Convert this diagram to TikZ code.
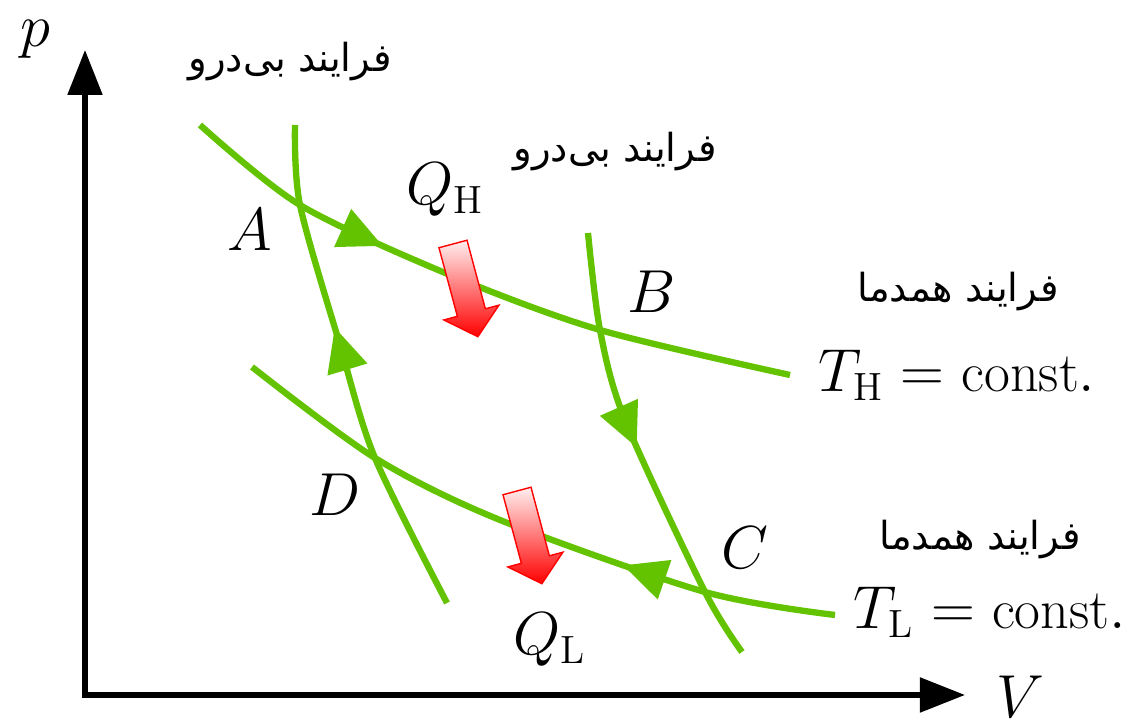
\documentclass[tikz,border=0pt]{standalone}
\usepackage{fontspec}
\usepackage{amsmath}
\usetikzlibrary{arrows.meta,decorations.markings}
\newfontfamily\arabicfont[Script=Arabic]{DejaVu Sans}
\TeXXeTstate=1
\definecolor{cyclegreen}{RGB}{100,195,0}
\tikzset{
	axis/.style={line width=1.5pt,{Triangle[length=0.45cm,width=0.34cm]}-{Triangle[length=0.45cm,width=0.34cm]}},
	curve/.style={cyclegreen,line width=1.8pt},
	flow/.style={postaction={decorate},decoration={markings,mark=at position #1 with {\arrow{Triangle[length=0.44cm,width=0.40cm]}}}},
	lbl/.style={font=\fontsize{16}{19}\selectfont},
	proc/.style={font=\arabicfont\fontsize{11}{13}\selectfont},
	heat/.pic={
		\shade[top color=red!6,bottom color=red,draw=red,line width=0.4pt]
			(-0.145,0) -- (0.145,0) -- (0.145,-0.71) -- (0.285,-0.71) -- (0,-0.96)
			-- (-0.285,-0.71) -- (-0.145,-0.71) -- cycle;
	}
}
\begin{document}
\begin{tikzpicture}
		\useasboundingbox (0,0) rectangle (11.36,7.25);
		\coordinate (O) at (0.85,0.30);
		\coordinate (Y) at (0.85,6.75);
		\coordinate (X) at (9.65,0.30);
		\coordinate (A) at (3.00,5.20);
		\coordinate (B) at (6.00,3.95);
		\coordinate (C) at (7.05,1.33);
		\coordinate (D) at (3.75,2.67);
		% axes
		\draw[axis] (Y) -- (O) -- (X);
		% isotherms
		\draw[curve,flow=0.34] plot[smooth] coordinates {(2.00,6.00) (A) (4.50,4.50) (B) (7.90,3.50)};
		\draw[curve,flow=0.34] plot[smooth] coordinates {(8.35,1.10) (C) (5.00,2.05) (D) (2.52,3.58)};
		% adiabats
		\draw[curve,flow=0.49] plot[smooth] coordinates {(5.88,4.92) (B) (6.25,3.05) (C) (7.42,0.73)};
		\draw[curve,flow=0.59] plot[smooth] coordinates {(4.47,1.22) (D) (3.40,3.80) (A) (2.95,6.00)};
		% heat
		\pic[rotate=15] (qin) at (4.53,4.81) {heat};
		\pic[rotate=15] (qout) at (5.17,2.34) {heat};
		\node[lbl] (py) at (0.35,6.86) {$p$};
		\node[lbl] (vx) at (10.20,0.28) {$V$};
		\node[lbl] (la) at (2.50,4.95) {$A$};
		\node[lbl] (lb) at (6.52,4.33) {$B$};
		\node[lbl] (lc) at (7.45,1.77) {$C$};
		\node[lbl] (ld) at (3.35,2.30) {$D$};
		\node[lbl] (qh) at (4.45,5.35) {$Q_{\mathrm{H}}$};
		\node[lbl] (ql) at (5.50,0.85) {$Q_{\mathrm{L}}$};
		\node[lbl] (th) at (9.57,3.50) {$T_{\mathrm{H}}=\mathrm{const.}$};
		\node[lbl] (tl) at (9.90,1.13) {$T_{\mathrm{L}}=\mathrm{const.}$};
		\node[proc] (ad1) at (2.90,6.63) {\beginR فرایند بی‌درو\endR};
		\node[proc] (ad2) at (6.15,5.73) {\beginR فرایند بی‌درو\endR};
		\node[proc] (is1) at (9.58,4.33) {\beginR فرایند همدما\endR};
		\node[proc] (is2) at (9.80,1.85) {\beginR فرایند همدما\endR};
	\end{tikzpicture}
\end{document}
